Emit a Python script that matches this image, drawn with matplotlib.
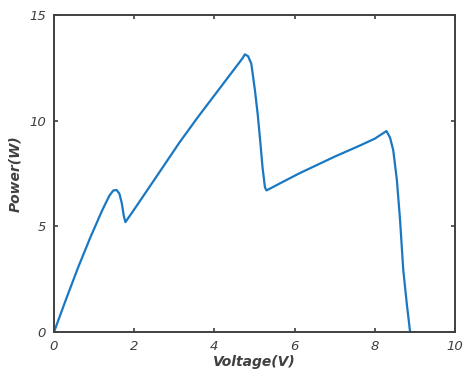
import matplotlib
matplotlib.use("Agg")
import matplotlib.pyplot as plt

# P-V curve
voltage = [0.0, 0.3, 0.6, 0.9, 1.2, 1.38, 1.48, 1.56, 1.63, 1.69, 1.74, 1.78,
           2.0, 2.5, 3.14, 3.6, 4.0, 4.5, 4.7, 4.76, 4.84, 4.92, 5.01, 5.08,
           5.14, 5.2, 5.26, 5.3, 5.6, 6.13, 7.0, 7.6, 8.0, 8.29, 8.38, 8.46,
           8.55, 8.63, 8.71, 8.8, 8.88]
power = [0.0, 1.55, 3.05, 4.45, 5.75, 6.45, 6.7, 6.72, 6.55, 6.1, 5.5, 5.2,
         5.8, 7.2, 9.0, 10.2, 11.2, 12.45, 12.95, 13.14, 13.05, 12.7, 11.45, 10.3,
         9.09, 7.8, 6.85, 6.7, 7.0, 7.52, 8.3, 8.8, 9.15, 9.51, 9.2, 8.6,
         7.2, 5.3, 2.93, 1.3, 0.0]

xticks = [0, 2, 4, 6, 8, 10]
yticks = [0, 5, 10, 15]

fig = plt.figure(figsize=(4.64, 3.76), dpi=100)
ax = fig.add_axes([0.1164, 0.117, 0.8642, 0.843])

ax.plot(voltage, power, color='#1a78c2', linewidth=1.6)

ax.set_xlim(0, 10)
ax.set_ylim(0, 15)
ax.set_xticks(xticks)
ax.set_yticks(yticks)

grey = '#404040'
for s in ax.spines.values():
    s.set_color(grey)
    s.set_linewidth(1.4)
ax.tick_params(direction='in', top=True, right=True, length=3, width=1.2,
               colors=grey, labelsize=9.5, pad=6)
for lab in ax.get_xticklabels() + ax.get_yticklabels():
    lab.set_fontstyle('italic')
    lab.set_color(grey)

ax.set_xlabel('Voltage(V)', fontsize=10, fontstyle='italic', fontweight='bold',
              color=grey, labelpad=1)
ax.set_ylabel('Power(W)', fontsize=10, fontstyle='italic', fontweight='bold',
              color=grey, labelpad=5)

fig.savefig('out.png', dpi=100)
